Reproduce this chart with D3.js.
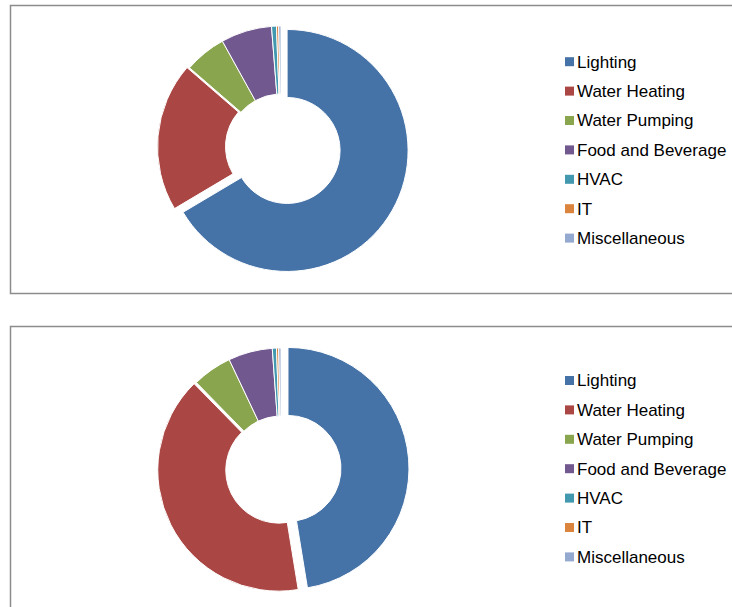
<!DOCTYPE html>
<html>
<head>
<meta charset="utf-8">
<script src="https://cdn.jsdelivr.net/npm/d3@7"></script>
<style>
    body { margin: 0; background: #fff; }
    svg { display: block; font-family: "Liberation Sans", Arial, sans-serif; }
</style>
</head>
<body>
<div id="chart"></div>
<script>
const categories = ["Lighting", "Water Heating", "Water Pumping", "Food and Beverage", "HVAC", "IT", "Miscellaneous"];
const topValues = [66.5, 19.9, 5.6, 6.8, 0.65, 0.3, 0.3];
const bottomValues = [47.5, 40.3, 5.3, 5.9, 0.55, 0.3, 0.3];
const colors = ["#4572A7", "#AA4643", "#89A54E", "#71588F", "#4198AF", "#DB843D", "#93A9CF"];

const width = 732;
const height = 607;

const svg = d3.select("#chart")
    .append("svg")
    .attr("width", width)
    .attr("height", height);

const color = d3.scaleOrdinal().domain(categories).range(colors);

// slices pulled out of the ring
const explode = { "Lighting": 7, "Water Heating": 2.5 };

function drawDonut(values, frameTop, frameBottom, cy, legendTop) {
    const g = svg.append("g");

    // chart frame, the right side runs off the page
    g.append("rect")
        .attr("x", 10.5)
        .attr("y", frameTop)
        .attr("width", 760)
        .attr("height", frameBottom - frameTop)
        .attr("fill", "none")
        .attr("stroke", "#8c8c8c")
        .attr("stroke-width", 1.5);

    const cx = 281;
    const rows = categories.map((c, i) => ({ name: c, value: values[i] }));

    const pie = d3.pie()
        .sort(null)
        .value(d => d.value);

    const arc = d3.arc()
        .innerRadius(53)
        .outerRadius(121);

    g.append("g")
        .attr("transform", `translate(${cx},${cy})`)
        .selectAll("path")
        .data(pie(rows))
        .enter()
        .append("path")
        .attr("d", arc)
        .attr("fill", d => color(d.data.name))
        .attr("stroke", "#fff")
        .attr("stroke-width", 1)
        .attr("transform", d => {
            const off = explode[d.data.name] || 0;
            const mid = (d.startAngle + d.endAngle) / 2;
            return `translate(${off * Math.sin(mid)},${-off * Math.cos(mid)})`;
        });

    const y = d3.scalePoint()
        .domain(categories)
        .range([legendTop, legendTop + 29.4 * (categories.length - 1)]);

    const item = g.append("g")
        .selectAll("g")
        .data(categories)
        .enter()
        .append("g")
        .attr("transform", d => `translate(565,${y(d)})`);

    item.append("rect")
        .attr("x", 0)
        .attr("y", -4.5)
        .attr("width", 9)
        .attr("height", 9)
        .attr("fill", d => color(d));

    item.append("text")
        .text(d => d)
        .attr("x", 12)
        .attr("y", 0)
        .attr("dy", "0.35em")
        .attr("font-size", "17px")
        .attr("fill", "#000");
}

drawDonut(topValues, 5.5, 293.5, 147, 61.7);
drawDonut(bottomValues, 326.5, 640, 469, 380.5);
</script>
</body>
</html>
